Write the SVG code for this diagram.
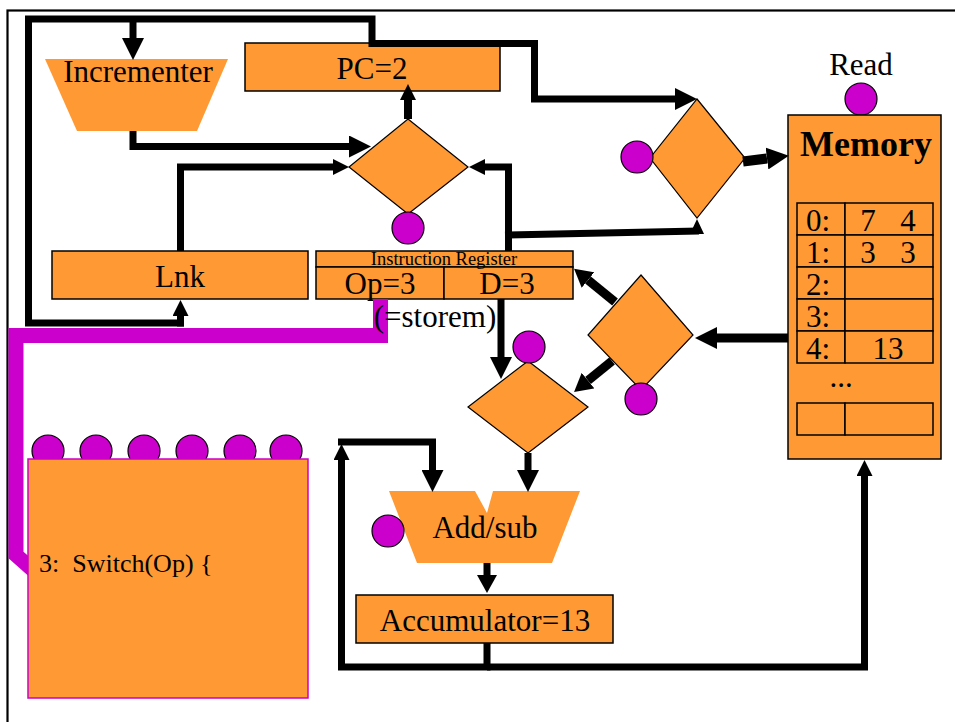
<svg xmlns="http://www.w3.org/2000/svg" width="955" height="722" viewBox="0 0 955 722">
<style>
.box{fill:#FF9933;stroke:#000;stroke-width:1.5}
.dia{fill:#FF9933;stroke:#000;stroke-width:1.2}
.ctl{fill:#CC00CC;stroke:#000;stroke-width:1.2}
.w{fill:none;stroke:#000;stroke-width:7;stroke-linejoin:miter}
.t{font-family:"Liberation Serif","Times New Roman",serif;font-size:31px;fill:#000}
.c{text-anchor:middle}
.head{fill:#000}
</style>
<defs>
<marker id="a" markerUnits="userSpaceOnUse" markerWidth="22" markerHeight="22" viewBox="0 0 22 22" refX="0" refY="11" orient="auto"><path d="M0,0 L22,11 L0,22 z"/></marker>
<marker id="m" markerUnits="userSpaceOnUse" markerWidth="18" markerHeight="20" viewBox="0 0 18 20" refX="0" refY="10" orient="auto"><path d="M0,0 L18,10 L0,20 z"/></marker>
<marker id="s" markerUnits="userSpaceOnUse" markerWidth="16" markerHeight="16" viewBox="0 0 16 16" refX="0" refY="8" orient="auto"><path d="M0,0 L16,8 L0,16 z"/></marker>
</defs>
<rect width="955" height="722" fill="#fff"/>
<rect x="7.5" y="10.5" width="970" height="730" fill="none" stroke="#000" stroke-width="2.2"/>

<g id="incrementer">
<polygon points="45,59 228,59 197,131 77,131" fill="#FF9933"/>
<text class="t c" x="138" y="82">Incrementer</text>
</g>
<g id="pc">
<rect class="box" x="245" y="43" width="255" height="48"/>
<text class="t c" x="372" y="79">PC=2</text>
</g>
<g id="pc-mux">
<polygon class="dia" points="408,119 468,167 408,214 349,167"/>
<circle class="ctl" cx="408" cy="228" r="16"/>
</g>
<g id="addr-mux">
<polygon class="dia" points="697,99 745,158 697,218 650,158"/>
<circle class="ctl" cx="637" cy="157" r="16"/>
</g>
<g id="memory">
<text class="t c" x="861" y="75">Read</text>
<circle class="ctl" cx="861" cy="99" r="16"/>
<rect class="box" x="788" y="115" width="153" height="344"/>
<text class="t c" x="866" y="156" style="font-weight:bold;font-size:36px">Memory</text>
<g class="box">
<rect x="797" y="203" width="48" height="32"/><rect x="845" y="203" width="88" height="32"/>
<rect x="797" y="235" width="48" height="32"/><rect x="845" y="235" width="88" height="32"/>
<rect x="797" y="267" width="48" height="32"/><rect x="845" y="267" width="88" height="32"/>
<rect x="797" y="299" width="48" height="32"/><rect x="845" y="299" width="88" height="32"/>
<rect x="797" y="331" width="48" height="32"/><rect x="845" y="331" width="88" height="32"/>
<rect x="797" y="403" width="48" height="32"/><rect x="845" y="403" width="88" height="32"/>
</g>
<text class="t" x="806" y="231">0:</text>
<text class="t c" x="868" y="231">7</text><text class="t c" x="908" y="231">4</text>
<text class="t" x="806" y="263">1:</text>
<text class="t c" x="868" y="263">3</text><text class="t c" x="908" y="263">3</text>
<text class="t" x="806" y="295">2:</text>
<text class="t" x="806" y="327">3:</text>
<text class="t" x="806" y="359">4:</text>
<text class="t c" x="888" y="359">13</text>
<text class="t c" x="841" y="387">...</text>
</g>
<g id="lnk">
<rect class="box" x="52" y="251" width="256" height="48"/>
<text class="t c" x="180" y="287">Lnk</text>
</g>
<g id="instruction-register">
<rect class="box" x="316" y="251" width="257" height="16"/>
<rect class="box" x="316" y="267" width="128" height="32"/>
<rect class="box" x="444" y="267" width="129" height="32"/>
<text class="t c" x="444" y="265" style="font-size:18.5px">Instruction Register</text>
<text class="t c" x="380" y="294">Op=3</text>
<text class="t c" x="507" y="294">D=3</text>
</g>
<g id="data-mux">
<polygon class="dia" points="641,275 693,335 641,390 588,335"/>
<circle class="ctl" cx="641" cy="399" r="16"/>
</g>
<g id="alu-mux">
<polygon class="dia" points="528,361 588,407 528,453 468,407"/>
<circle class="ctl" cx="529" cy="347" r="16"/>
</g>
<g id="add-sub">
<polygon points="389,491 475,491 487,513 493,491 580,491 552,563 417,563" fill="#FF9933"/>
<circle class="ctl" cx="388" cy="531" r="16"/>
<text class="t c" x="485" y="538">Add/sub</text>
</g>
<g id="accumulator">
<rect class="box" x="356" y="595" width="257" height="48"/>
<text class="t c" x="485" y="631">Accumulator=13</text>
</g>

<g id="connectors">
<polyline points="380.5,299 380.5,335.5 16,335.5 16,555 34,571" fill="none" stroke="#CC00CC" stroke-width="15" stroke-linejoin="miter"/>
<path class="w" d="M184,323 L28.5,323 L28.5,19 L372,19 L372,43.5 L534.5,43.5 L534.5,99 L675,99" marker-end="url(#a)"/>
<path class="w" d="M180.5,326.5 L180.5,316" marker-end="url(#s)"/>
<path class="w" d="M133,19 L133,38" marker-end="url(#a)"/>
<path class="w" d="M408,119 L408,100" style="stroke-width:8" marker-end="url(#s)"/>
<path class="w" d="M133,131 L133,146.5 L349,146.5" marker-end="url(#a)"/>
<path class="w" d="M180.5,251 L180.5,167 L333,167" marker-end="url(#s)"/>
<path class="w" d="M508.5,251 L508.5,167 L485,167" marker-end="url(#s)"/>
<path class="w" d="M505,235 L699,231"/>
<polygon class="head" points="690,234 704,234 697,219"/>
<path class="w" d="M743,161.5 L767,158.5" style="stroke-width:10" marker-end="url(#a)"/>
<path class="w" d="M788,338 L717,338" style="stroke-width:9" marker-end="url(#a)"/>
<path class="w" d="M615,302 L588,280" style="stroke-width:9" marker-end="url(#m)"/>
<path class="w" d="M612,361 L588,380.6" style="stroke-width:9" marker-end="url(#m)"/>
<path class="w" d="M501,299 L501,357" marker-end="url(#a)"/>
<path class="w" d="M528,453 L528,470" marker-end="url(#a)"/>
<path class="w" d="M487,563 L487,575" marker-end="url(#m)"/>
<path class="w" d="M487,643 L487,667 L341.5,667 L341.5,460" marker-end="url(#s)"/>
<path class="w" d="M338,442 L432.5,442 L432.5,470" marker-end="url(#a)"/>
<path class="w" d="M487,667 L864.5,667 L864.5,476" marker-end="url(#s)"/>
</g>

<g id="switch">
<circle class="ctl" cx="48" cy="451" r="16"/>
<circle class="ctl" cx="96" cy="451" r="16"/>
<circle class="ctl" cx="144" cy="451" r="16"/>
<circle class="ctl" cx="192" cy="451" r="16"/>
<circle class="ctl" cx="240" cy="451" r="16"/>
<circle class="ctl" cx="286" cy="451" r="16"/>
<rect x="28" y="459" width="280" height="239" fill="#FF9933" stroke="#CC00CC" stroke-width="1.5"/>
<text class="t" x="39" y="572" style="font-size:26px;white-space:pre" xml:space="preserve">3:  Switch(Op) {</text>
</g>
<g id="op-label">
<text class="t c" x="435" y="327">(=storem)</text>
</g>
</svg>
